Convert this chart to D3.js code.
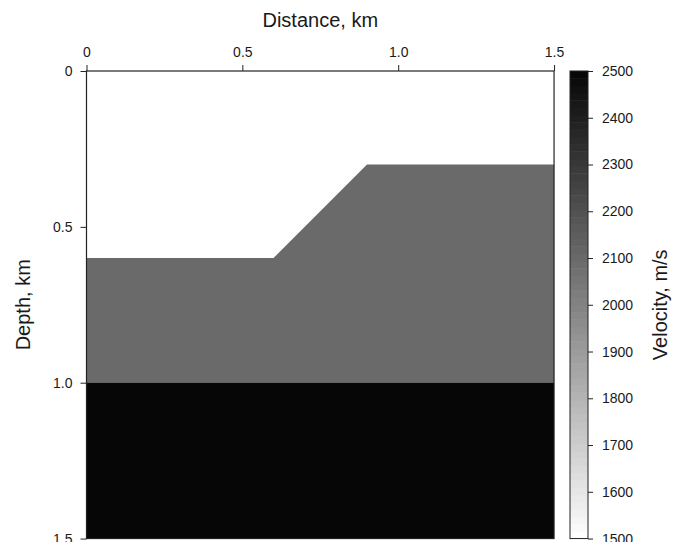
<!DOCTYPE html>
<html>
<head>
<meta charset="utf-8">
<script src="https://cdn.jsdelivr.net/npm/d3@7"></script>
<style>
  body { margin: 0; background: #fff; }
  svg { display: block; font-family: "Liberation Sans", Arial, sans-serif; }
  .axis text { font-size: 14px; fill: #1a1a1a; }
  .axis path, .axis line { stroke: #222; }
  .label { font-size: 20px; fill: #1a1a1a; }
</style>
</head>
<body>
<svg id="chart"></svg>
<script>
// model geometry, km
const xTicks = [0, 0.5, 1.0, 1.5];
const yTicks = [0, 0.5, 1.0, 1.5];
const vTicks = [1500, 1600, 1700, 1800, 1900, 2000, 2100, 2200, 2300, 2400, 2500];

// interface between layer 1 and layer 2 (x, depth)
const interfaceTop = [[0, 0.6], [0.6, 0.6], [0.9, 0.3], [1.5, 0.3]];
const interfaceBottom = 1.0;
const layerVelocity = [1500, 2100, 2500];

const width = 683;
const height = 542;
const margin = { top: 71, left: 86.5 };
const kmPx = 311.7;

const svg = d3.select("#chart")
    .attr("width", width)
    .attr("height", height);

const x = d3.scaleLinear().domain([0, 1.5]).range([margin.left, margin.left + 1.5 * kmPx]);
const y = d3.scaleLinear().domain([0, 1.5]).range([margin.top, margin.top + 1.5 * kmPx]);

const color = d3.scaleLinear()
    .domain([1500, 2500])
    .range(["#ffffff", "#060606"]);

const fmt = d => d === 0 ? "0" : d3.format(".1f")(d);

// layers
svg.append("rect")
    .attr("x", x(0)).attr("y", y(0))
    .attr("width", x(1.5) - x(0)).attr("height", y(1.5) - y(0))
    .attr("fill", color(layerVelocity[0]));

const area = d3.area()
    .x(d => x(d[0]))
    .y0(y(interfaceBottom))
    .y1(d => y(d[1]));

svg.append("path")
    .datum(interfaceTop)
    .attr("d", area)
    .attr("fill", color(layerVelocity[1]));

svg.append("rect")
    .attr("x", x(0)).attr("y", y(interfaceBottom))
    .attr("width", x(1.5) - x(0)).attr("height", y(1.5) - y(interfaceBottom))
    .attr("fill", color(layerVelocity[2]));

// frame
svg.append("rect")
    .attr("x", x(0)).attr("y", y(0))
    .attr("width", x(1.5) - x(0)).attr("height", y(1.5) - y(0))
    .attr("fill", "none")
    .attr("stroke", "#222")
    .attr("stroke-width", 1.2);

// axes
svg.append("g")
    .attr("class", "axis")
    .attr("transform", `translate(0,${y(0)})`)
    .call(d3.axisTop(x).tickValues(xTicks).tickFormat(fmt).tickSize(6).tickPadding(8))
    .call(g => g.select(".domain").remove());

svg.append("g")
    .attr("class", "axis")
    .attr("transform", `translate(${x(0)},0)`)
    .call(d3.axisLeft(y).tickValues(yTicks).tickFormat(fmt).tickSize(6).tickPadding(8))
    .call(g => g.select(".domain").remove());

svg.append("text")
    .attr("class", "label")
    .attr("x", x(0.75))
    .attr("y", 26.5)
    .attr("text-anchor", "middle")
    .text("Distance, km");

svg.append("text")
    .attr("class", "label")
    .attr("transform", `translate(30,${y(0.75)}) rotate(-90)`)
    .attr("text-anchor", "middle")
    .text("Depth, km");

// colour bar
const cbX = 570;
const cbW = 18;
const v = d3.scaleLinear().domain([1500, 2500]).range([y(1.5), y(0)]);
const steps = d3.range(1500, 2500, 1000 / 64);

svg.append("g")
    .selectAll("rect")
    .data(steps)
    .join("rect")
    .attr("x", cbX)
    .attr("y", d => v(d + 1000 / 64))
    .attr("width", cbW)
    .attr("height", d => v(d) - v(d + 1000 / 64) + 0.5)
    .attr("fill", d => color(d + 500 / 64));

svg.append("rect")
    .attr("x", cbX).attr("y", v(2500))
    .attr("width", cbW).attr("height", v(1500) - v(2500))
    .attr("fill", "none")
    .attr("stroke", "#222")
    .attr("stroke-width", 1);

svg.append("g")
    .attr("class", "axis")
    .attr("transform", `translate(${cbX + cbW},0)`)
    .call(d3.axisRight(v).tickValues(vTicks).tickFormat(d3.format("d")).tickSize(5).tickPadding(9))
    .call(g => g.select(".domain").remove());

svg.append("text")
    .attr("class", "label")
    .attr("transform", `translate(667,${v(2000)}) rotate(-90)`)
    .attr("text-anchor", "middle")
    .text("Velocity, m/s");
</script>
</body>
</html>
